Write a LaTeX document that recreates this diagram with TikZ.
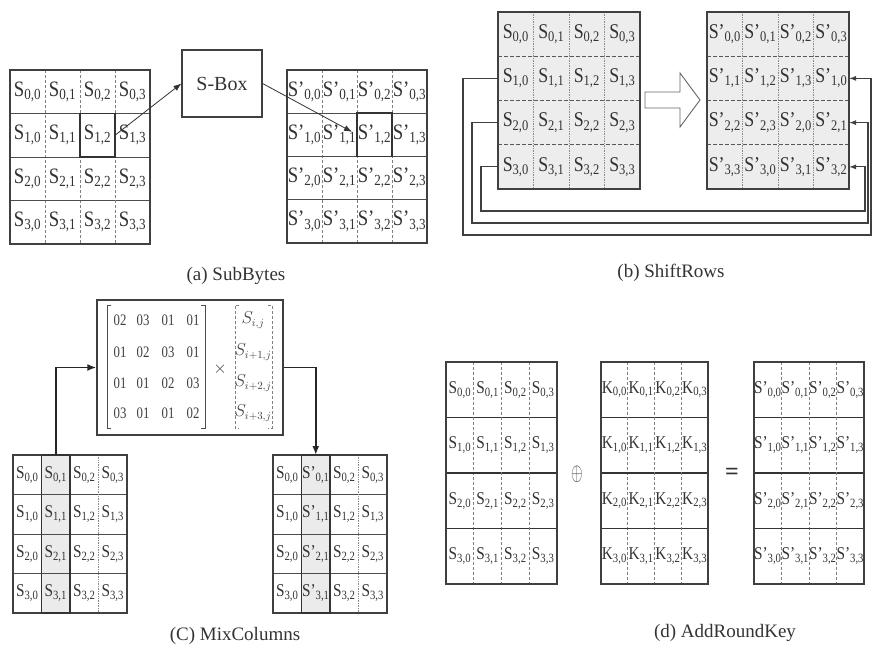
\documentclass[tikz,border=0pt]{standalone}
\usepackage{fontspec}
\setmainfont{Liberation Serif}
\usepackage{graphicx}
\usetikzlibrary{arrows.meta,calc}

\newcommand\tS[2]{S\textsubscript{#1,#2}}
\newcommand\tSp[2]{S'\textsubscript{#1,#2}}
\newcommand\tK[2]{K\textsubscript{#1,#2}}
\newcommand\tSh[2]{\pgfmathtruncatemacro\shcol{mod(#1+#2,4)}S'\textsubscript{#1,\shcol}}
\newcommand\tMx[2]{\ifnum#2=1 S'\else S\fi\textsubscript{#1,#2}}

% #1 name #2 x0 #3 y0 #4 w #5 h #6 text macro #7 font size #8 hstyle #9 vstyle
\newcommand\grid[9]{%
  \foreach \ki in {1,2,3}{%
    \draw[#8] ({#2},{#3+\ki*#5}) -- ++({4*#4},0);
    \draw[#9] ({#2+\ki*#4},{#3}) -- ++(0,{4*#5});}
  \draw[gridframe] (#2,#3) rectangle ++({4*#4},{4*#5});
  \foreach \ri in {0,...,3}{\foreach \ci in {0,...,3}{%
    \node[cell, minimum width=#4pt, minimum height=#5pt,
          font=\fontsize{#7}{#7}\selectfont]
      (#1-\ri-\ci) at ({#2+(\ci+0.5)*#4},{#3+(\ri+0.5)*#5}) {\scalebox{0.85}[1]{#6{\ri}{\ci}}};}}%
}

\tikzset{
  cell/.style={inner sep=0pt, outer sep=0pt, text=black!80},
  gridframe/.style={draw=black!75, line width=1.3pt},
  hsolid/.style={draw=black!70, line width=1pt},
  hthick/.style={draw=black!80, line width=1.5pt},
  hdash/.style={draw=black!65, dash pattern=on 4pt off 2pt, line width=1pt},
  vdash/.style={draw=black!50, densely dashed, line width=0.7pt},
  vdot/.style={draw=black!45, densely dotted, line width=0.7pt},
  hl/.style={draw=black!80, line width=1.6pt},
  conn/.style={draw=black!80, line width=0.8pt, -{Latex[length=8pt,width=6pt]}},
  thickconn/.style={draw=black!85, line width=1.8pt, -{Latex[length=9pt,width=7pt]}},
  fb/.style={draw=black!75, line width=1.1pt, -{Latex[length=7pt,width=5pt]}},
  captxt/.style={font=\fontsize{19}{19}\selectfont, text=black!80},
  ment/.style={font=\fontsize{16}{16}\selectfont, text=black!75, inner sep=0pt},
}

\begin{document}
\begin{tikzpicture}[x=1pt,y=-1pt]
\useasboundingbox (0,0) rectangle (873,646);

% ---------------- (a) SubBytes ----------------
\grid{aL}{10}{70}{35}{43.5}{\tS}{22}{hsolid}{vdash}
\draw[hl] (aL-1-2.north west) rectangle (aL-1-2.south east);
\grid{aR}{287}{70}{35}{43.25}{\tSp}{22}{hsolid}{vdash}
\draw[hl] (aR-1-2.north west) rectangle (aR-1-2.south east);
\node[draw=black!75, line width=1.2pt, minimum width=80pt, minimum height=67pt,
      font=\fontsize{20}{20}\selectfont, text=black!80] (sbox) at (222,83.5) {S-Box};
\draw[conn] (aL-1-2.east) -- (sbox.west);
\draw[conn] (sbox.east) -- ([xshift=-5pt,yshift=3pt]aR-1-2.west);
\node[captxt] (capa) at (236,276) {(a) SubBytes};

% ---------------- (b) ShiftRows ----------------
\fill[black!7] (498,12) rectangle (640,189);
\grid{bL}{498}{12}{35.5}{44.25}{\tS}{21}{hdash}{vdot}
\fill[black!7] (707,12) rectangle (849,189);
\grid{bR}{707}{12}{35.5}{44.25}{\tSh}{21}{hdash}{vdot}
\draw[black!60, line width=0.9pt, fill=white] (645,92) -- (680,92) -- (680,73) -- (700,100)
  -- (680,127) -- (680,108) -- (645,108) -- cycle;
\coordinate (f1a) at (463,235); \coordinate (f1b) at (871,235);
\coordinate (f2a) at (472,223); \coordinate (f2b) at (868,223);
\coordinate (f3a) at (481,211); \coordinate (f3b) at (865,211);
\draw[fb] (bL-1-0.west) -| (f1a) -- (f1b) |- (bR-1-3.east);
\draw[fb] (bL-2-0.west) -| (f2a) -- (f2b) |- (bR-2-3.east);
\draw[fb] (bL-3-0.west) -| (f3a) -- (f3b) |- (bR-3-3.east);
\node[captxt] (capb) at (671,273) {(b) ShiftRows};

% ---------------- (c) MixColumns ----------------
\fill[black!8] (41.5,455) rectangle (70,613);
\grid{cL}{13}{455}{28.5}{39.5}{\tS}{18}{hsolid}{vdot}
\draw[hl] (cL-0-1.north west) rectangle (cL-3-1.south east);
\fill[black!8] (301.5,455) rectangle (330,613);
\grid{cR}{273}{455}{28.5}{39.5}{\tMx}{18}{hsolid}{vdot}
\draw[hl] (cR-0-1.north west) rectangle (cR-3-1.south east);
\node[draw=black!75, line width=1.3pt, minimum width=186pt, minimum height=135pt] (mix) at (190,367.5) {};
\foreach \ri/\yy/\ea/\eb/\ec/\ed in {0/320/02/03/01/01,1/352/01/02/03/01,2/383/01/01/02/03,3/413/03/01/01/02}{
  \node[ment] (m-\ri-0) at (120,\yy) {\scalebox{0.8}[1]{\ea}};
  \node[ment] (m-\ri-1) at (143,\yy) {\scalebox{0.8}[1]{\eb}};
  \node[ment] (m-\ri-2) at (168,\yy) {\scalebox{0.8}[1]{\ec}};
  \node[ment] (m-\ri-3) at (193,\yy) {\scalebox{0.8}[1]{\ed}};
}
\draw[black!70, line width=0.9pt] (111,305) -- (107,305) -- (107,428) -- (111,428);
\draw[black!70, line width=0.9pt] (201,305) -- (205,305) -- (205,428) -- (201,428);
\node[ment] (times) at (220,369) {$\times$};
\node[ment] (v-0) at (253,320) {$S_{i,j}$};
\node[ment] (v-1) at (253,352) {$S_{i+1,j}$};
\node[ment] (v-2) at (253,383) {$S_{i+2,j}$};
\node[ment] (v-3) at (253,413) {$S_{i+3,j}$};
\draw[black!50, line width=0.8pt, densely dashed] (239,305) -- (235,305) -- (235,428) -- (239,428);
\draw[black!50, line width=0.8pt, densely dashed] (268,305) -- (272,305) -- (272,428) -- (268,428);
\draw[thickconn] (cL-0-1.north) |- (mix.west);
\draw[thickconn] (mix.east) -| (cR-0-1.north);
\node[captxt] (capc) at (235,636) {(C) MixColumns};

% ---------------- (d) AddRoundKey ----------------
\grid{dL}{446}{362}{27.75}{55.5}{\tS}{18}{hthick}{vdash}
\grid{dK}{601}{362}{26.75}{55.5}{\tK}{18}{hthick}{vdash}
\grid{dR}{754}{362}{27.5}{55.5}{\tSp}{18}{hthick}{vdash}
\node[font=\fontsize{26}{26}\selectfont, text=black!70] (xor) at (577,474) {\scalebox{0.6}[1]{$\oplus$}};
\node[font=\fontsize{24}{24}\selectfont\bfseries, text=black!80] (eq) at (732,474) {=};
\node[captxt] (capd) at (725,633) {(d) AddRoundKey};
\end{tikzpicture}
\end{document}
